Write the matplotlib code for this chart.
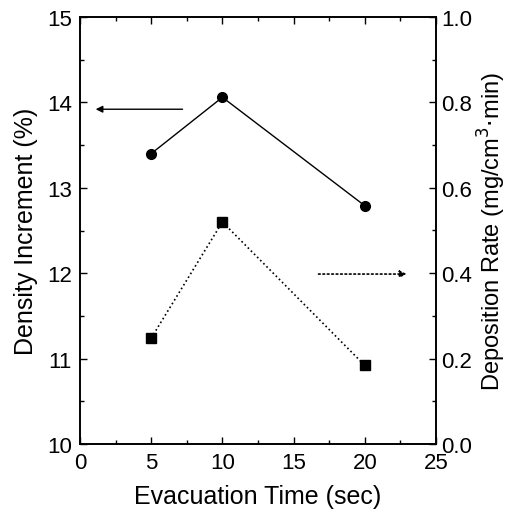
import matplotlib
matplotlib.use("Agg")
import matplotlib.pyplot as plt
from matplotlib.ticker import MultipleLocator

plt.rcParams['font.family'] = ['Liberation Sans', 'DejaVu Sans']

x = [5, 10, 20]
density = [13.40, 14.06, 12.79]
rate = [0.248, 0.52, 0.184]

fig = plt.figure(figsize=(5.13, 5.10), dpi=100)
ax = fig.add_axes([80/513, 1-445/510, (436-80)/513, (445-18)/510])
ax2 = ax.twinx()

ax.plot(x, density, '-', color='black', lw=1.0, marker='o', ms=7)
ax2.plot(x, rate, ':', color='black', lw=1.2, marker='s', ms=7)

ax.annotate('', xy=(1.1, 13.92), xytext=(7.2, 13.92),
            arrowprops=dict(arrowstyle='-|>', color='black', lw=1.0,
                            mutation_scale=10, shrinkA=0, shrinkB=0))
ax2.annotate('', xy=(22.95, 0.398), xytext=(16.75, 0.398),
             arrowprops=dict(arrowstyle='-|>', color='black', lw=1.2,
                             linestyle=':', mutation_scale=10, shrinkA=0, shrinkB=0))

ax.set_xlim(0, 25)
ax.set_ylim(10, 15)
ax2.set_ylim(0.0, 1.0)

ax.xaxis.set_major_locator(MultipleLocator(5))
ax.xaxis.set_minor_locator(MultipleLocator(2.5))
ax.yaxis.set_major_locator(MultipleLocator(1))
ax.yaxis.set_minor_locator(MultipleLocator(0.5))
ax2.yaxis.set_major_locator(MultipleLocator(0.2))
ax2.yaxis.set_minor_locator(MultipleLocator(0.1))
ax2.set_yticklabels([f"{v:.1f}" for v in ax2.get_yticks()])

ax.tick_params(which='both', direction='in', top=True, labelsize=16, width=1.0, pad=6)
ax.tick_params(which='major', length=5)
ax.tick_params(which='minor', length=3)
ax2.tick_params(which='both', direction='in', labelsize=16, width=1.0, pad=4)
ax2.tick_params(which='major', length=5)
ax2.tick_params(which='minor', length=3)

for a in (ax, ax2):
    for s in a.spines.values():
        s.set_linewidth(1.2)

ax.set_xlabel('Evacuation Time (sec)', fontsize=18, labelpad=8)
ax.set_ylabel('Density Increment (%)', fontsize=18, labelpad=6)
ax2.set_ylabel('Deposition Rate (mg/cm$^3$$\\cdot$min)', fontsize=17, labelpad=2)

fig.savefig('out.png', dpi=100)
